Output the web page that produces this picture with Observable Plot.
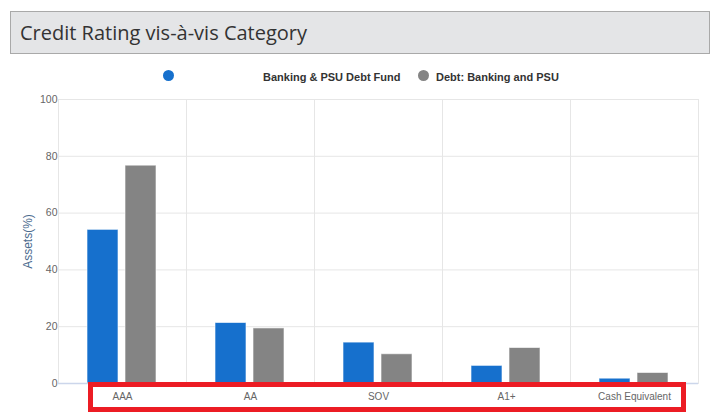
<!DOCTYPE html>
<html>
<head>
<meta charset="utf-8">
<script src="https://cdn.jsdelivr.net/npm/d3@7"></script>
<script src="https://cdn.jsdelivr.net/npm/@observablehq/plot@0.6"></script>
<style>
  body { margin: 0; background: #fff; width: 721px; height: 414px; position: relative; overflow: hidden; font-family: "Liberation Sans", Arial, sans-serif; }
  #title { position: absolute; left: 10px; top: 11px; width: 700px; height: 43px; box-sizing: border-box; background: #e4e5e7; border: 1px solid #a9a9a9; font-family: "Open Sans", sans-serif; font-size: 20px; color: #333; line-height: 41px; padding-left: 9px; }
  .leg { position: absolute; top: 69px; font-size: 11px; font-weight: bold; color: #333; line-height: 16px; white-space: nowrap; }
  .dot { position: absolute; width: 11px; height: 11px; border-radius: 50%; top: 70px; }
  #chart { position: absolute; left: 0; top: 88px; }
  #hl { position: absolute; left: 88px; top: 382px; width: 598px; height: 30px; box-sizing: border-box; border: 5px solid #ec1c24; }
</style>
</head>
<body>
<div id="title">Credit Rating vis-à-vis Category</div>
<div class="dot" id="d1" style="left:163px;"></div>
<div class="leg" id="l1" style="left:263px;"></div>
<div class="dot" id="d2" style="left:418px;"></div>
<div class="leg" id="l2" style="left:436px;"></div>
<div id="chart"></div>
<div id="hl"></div>
<script>
const categories = ["AAA", "AA", "SOV", "A1+", "Cash Equivalent"];
const seriesNames = ["Banking & PSU Debt Fund", "Debt: Banking and PSU"];
const fundValues = [54.1, 21.3, 14.4, 6.2, 1.7];
const categoryValues = [76.7, 19.4, 10.3, 12.5, 3.7];
const seriesColors = ["#1670cd", "#848484"];
const yTicks = [0, 20, 40, 60, 80, 100];

const rows = [];
categories.forEach((c, i) => {
  rows.push({category: c, series: seriesNames[0], value: fundValues[i]});
  rows.push({category: c, series: seriesNames[1], value: categoryValues[i]});
});

document.getElementById("d1").style.background = seriesColors[0];
document.getElementById("d2").style.background = seriesColors[1];
document.getElementById("l1").textContent = seriesNames[0];
document.getElementById("l2").textContent = seriesNames[1];

const chart = Plot.plot({
  width: 721,
  height: 326,
  marginTop: 11,
  marginBottom: 31,
  marginLeft: 57,
  marginRight: 23,
  style: {fontFamily: "'Liberation Sans', Arial, sans-serif", fontSize: "10.5px", background: "transparent"},
  fx: {domain: categories, padding: 0, label: null},
  x: {domain: seriesNames, paddingInner: 0.184, paddingOuter: 0.776, axis: null},
  y: {domain: [0, 100], label: null},
  color: {domain: seriesNames, range: seriesColors},
  marks: [
    Plot.gridY(yTicks, {stroke: "#e6e6e6", strokeOpacity: 1}),
    Plot.frame({stroke: "#e6e6e6", strokeOpacity: 1}),
    Plot.barY(rows, {fx: "category", x: "series", y: "value", fill: "series", stroke: "#ffffff", strokeWidth: 1, strokeOpacity: 0.6}),
    Plot.ruleY([0], {stroke: "#ccd6eb", strokeWidth: 1.5}),
    Plot.axisY(yTicks, {tickSize: 0, tickPadding: 1, fill: "#666", fontSize: 10.5, label: "Assets(%)", labelAnchor: "center", labelOffset: 35, labelArrow: "none"}),
    Plot.axisFx({anchor: "bottom", tickSize: 0, tickPadding: 9, fill: "#666", fontSize: 10, label: null})
  ]
});
document.getElementById("chart").appendChild(chart);
d3.select(chart).selectAll('g[aria-label="y-axis label"]').attr("fill", "#4d6c8f").attr("font-size", "12px");
d3.select(chart).selectAll('g[aria-label="y-axis label"] text').attr("fill", "#4d6c8f").attr("font-size", "12px");
</script>
</body>
</html>
